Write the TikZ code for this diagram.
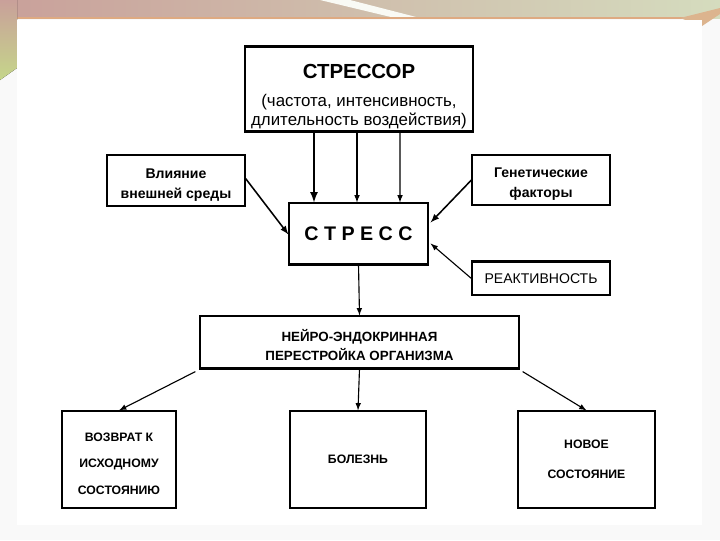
\documentclass[tikz,border=0pt]{standalone}
\usepackage{fontspec}
\setmainfont{Liberation Sans}
\usetikzlibrary{arrows, positioning, calc}
\definecolor{bandpink}{RGB}{201, 160, 154}
\definecolor{bandgreen}{RGB}{213, 220, 190}
\definecolor{stripgreen}{RGB}{197, 214, 138}
\definecolor{bandline}{RGB}{222, 170, 130}

\begin{document}
\begin{tikzpicture}[x=0.025cm, y=-0.025cm, >=latex,
    box/.style={draw, rectangle, line width=0.8pt, fill=white, inner sep=0pt, align=center, font=\fontsize{10}{14}\selectfont\bfseries},
    endbox/.style={box, minimum height=2.425cm, font=\fontsize{8.7}{19}\selectfont\bfseries},
    link/.style={->, line width=0.8pt}]
\useasboundingbox (0,0) rectangle (720,540);
% slide background
\fill[gray!5] (0,0) rectangle (720,540);
\fill[left color=bandpink, right color=bandgreen] (0,0) rectangle (720,18);
\fill[white!85!bandgreen] (320,0) -- (350,0) -- (420,18) -- (395,18) -- cycle;
\fill[bandline] (16,17) rectangle (702,19);
\fill[top color=bandpink, bottom color=stripgreen] (0,0) -- (17,0) -- (17,68) -- (0,80) -- cycle;
\fill[bandline!80!bandgreen] (680,18) -- (720,8) -- (720,14) -- (702,26) -- cycle;
\fill[white] (17,20) rectangle (702,525);
% boxes
\node[box, minimum width=5.7cm, minimum height=2.1cm] (stressor) at (359,89)
  {\rule{0pt}{21pt}{\fontsize{14.5}{15}\selectfont СТРЕССОР}\\[6pt]
   {\fontsize{12}{15.5}\selectfont\mdseries (частота, интенсивность,}\\
   {\fontsize{12}{15.5}\selectfont\mdseries длительность воздействия)}};
\node[box, minimum width=3.475cm, minimum height=1.525cm, font=\fontsize{14}{16}\selectfont\bfseries] (stress) at (358.5,233.5) {С\ Т\ Р\ Е\ С\ С};
\node[box, minimum width=3.45cm, minimum height=1.275cm] (environ) at (176,180.5) {\rule{0pt}{13pt}Влияние\\внешней среды};
\node[box, minimum width=3.45cm, minimum height=1.25cm] (genetic) at (541,180) {\rule{0pt}{13pt}Генетические\\факторы};
\node[box, minimum width=3.45cm, minimum height=0.825cm, font=\fontsize{10}{14}\selectfont] (reactiv) at (541,278.5) {РЕАКТИВНОСТЬ};
\node[box, minimum width=7.975cm, minimum height=1.3cm, font=\fontsize{9.5}{13.5}\selectfont\bfseries] (neuro) at (359.5,342) {\rule{0pt}{13pt}НЕЙРО-ЭНДОКРИННАЯ\\ПЕРЕСТРОЙКА ОРГАНИЗМА};
\node[endbox, minimum width=2.85cm] (back) at (119,459.5) {\rule{0pt}{12pt}ВОЗВРАТ К\\ИСХОДНОМУ\\СОСТОЯНИЮ};
\node[endbox, minimum width=3.4cm] (illness) at (358,459.5) {БОЛЕЗНЬ};
\node[endbox, minimum width=3.425cm, font=\fontsize{8.7}{21}\selectfont\bfseries] (newstate) at (586.5,459.5) {НОВОЕ\\СОСТОЯНИЕ};
% heavy edges
\draw[line width=2pt] (stressor.north west) -- (stressor.north east);
\draw[line width=1.4pt] (stressor.south west) -- (stressor.south east);
\draw[line width=1.6pt] (stress.south west) -- (stress.south east);
\draw[line width=1.6pt] (reactiv.north west) -- (reactiv.north east);
\draw[line width=1.4pt] (neuro.south west) -- (neuro.south east);
% arrows
\draw[link, line width=1.5pt] ($(stressor.south)+(-45,0)$) -- ($(stress.north)+(-44.5,0)$);
\draw[link] ($(stressor.south)+(-2,0)$) -- ($(stress.north)+(-1.5,0)$);
\draw[link] ($(stressor.south)+(41,0)$) -- ($(stress.north)+(41.5,0)$);
\draw[link, line width=1.1pt] ($(environ.east)+(0,-2)$) -- ($(stress.west)+(0,1)$);
\draw[link, line width=1.1pt] (genetic.west) -- ($(stress.east)+(2,-11)$);
\draw[link] (reactiv.west) -- ($(stress.east)+(2,10)$);
\draw[link] (stress.south) -- (neuro.north);
\draw[link] ($(neuro.south west)+(-4,3)$) -- (back.north);
\draw[link] (neuro.south) -- (illness.north);
\draw[link] ($(neuro.south east)+(3,3)$) -- (newstate.north);
\end{tikzpicture}
\end{document}
